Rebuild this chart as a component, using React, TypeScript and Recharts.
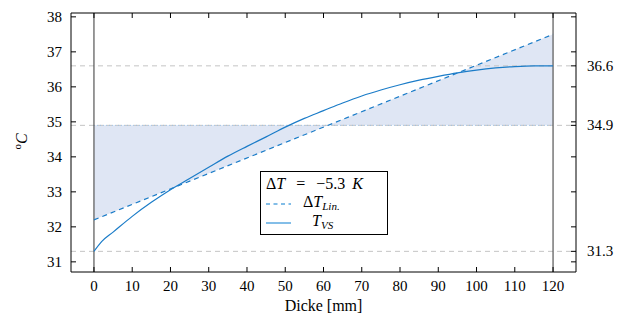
import React from 'react';
import {
  Area,
  ComposedChart,
  Legend,
  Line,
  ReferenceLine,
  XAxis,
  YAxis,
} from 'recharts';

// Dicke [mm] and measured temperature profile T_VS [°C]
const dicke = [0, 2, 5, 10, 15, 20, 25, 30, 35, 40, 45, 50, 55, 60, 65, 70, 75, 80, 85, 90, 95, 100, 105, 110, 115, 120];
const tVS = [31.3, 31.58, 31.85, 32.3, 32.7, 33.06, 33.38, 33.7, 34.02, 34.3, 34.57, 34.85, 35.1, 35.32, 35.54, 35.74, 35.91, 36.06, 36.19, 36.3, 36.4, 36.48, 36.54, 36.58, 36.6, 36.6];

// linear profile (end points)
const linX = [0, 120];
const linT = [32.2, 37.5];

const meanT = 34.9;
const refLevels = [31.3, 34.9, 36.6];
const xTicks = [0, 10, 20, 30, 40, 50, 60, 70, 80, 90, 100, 110, 120];
const yTicks = [31, 32, 33, 34, 35, 36, 37, 38];
const rightTicks = [...yTicks, 31.3, 34.9, 36.6];

const deltaLabel = '\u22125.3';
const xLabel = 'Dicke [mm]';

const FONT = 'Liberation Serif';
const BLUE = '#1b7cc8';
const LEGEND_BLUE = '#5aa8e0';

const tvsData = dicke.map((x, i) => ({ x, t: tVS[i] }));
const linData = linX.map((x, i) => ({ x, lin: linT[i] }));
const bandData = linX.map((x, i) => ({ x, band: [meanT, linT[i]] }));
const meanData = linX.map((x) => ({ x, m: meanT }));

const BottomTick = (props: any) => {
  const { x, y, payload } = props;
  return (
    <g>
      <line x1={x} y1={y} x2={x} y2={y - 5} stroke="#000" />
      <text x={x} y={y + 19} textAnchor="middle" fontFamily={FONT} fontSize={15} fill="#000">
        {payload.value}
      </text>
    </g>
  );
};

const TopTick = (props: any) => {
  const { x, y } = props;
  return <line x1={x} y1={y} x2={x} y2={y + 5} stroke="#000" />;
};

const LeftTick = (props: any) => {
  const { x, y, payload } = props;
  return (
    <g>
      <line x1={x} y1={y} x2={x + 5} y2={y} stroke="#000" />
      <text x={x - 9} y={y + 5} textAnchor="end" fontFamily={FONT} fontSize={15} fill="#000">
        {payload.value}
      </text>
    </g>
  );
};

const RightTick = (props: any) => {
  const { x, y, payload } = props;
  const labeled = !Number.isInteger(payload.value);
  return (
    <g>
      <line x1={x} y1={y} x2={x - 5} y2={y} stroke="#000" />
      {labeled && (
        <text x={x + 11} y={y + 5} textAnchor="start" fontFamily={FONT} fontSize={15} fill="#000">
          {payload.value.toFixed(1)}
        </text>
      )}
    </g>
  );
};

const YLabel = (props: any) => {
  const { viewBox } = props;
  const x = viewBox.x + 27;
  const y = viewBox.y + viewBox.height / 2 - 1;
  return (
    <text x={x} y={y} transform={`rotate(-90, ${x}, ${y})`} textAnchor="middle" fontFamily={FONT} fontSize={16} fill="#000">
      <tspan fontSize={11} dy={-6}>o</tspan>
      <tspan fontStyle="italic" dy={6}>C</tspan>
    </text>
  );
};

const XLabel = (props: any) => {
  const { viewBox } = props;
  return (
    <text x={viewBox.x + viewBox.width / 2} y={viewBox.y + 39} textAnchor="middle" fontFamily={FONT} fontSize={16} fill="#000">
      {xLabel}
    </text>
  );
};

const sub = { fontSize: 11, fontStyle: 'italic' as const, position: 'relative' as const, top: 3 };

const LegendBox = () => (
  <div
    style={{
      position: 'relative',
      width: 126,
      height: 62,
      border: '1px solid #000',
      background: '#fff',
      fontFamily: '"Liberation Serif", serif',
      fontSize: 16,
      lineHeight: '18px',
      color: '#000',
    }}
  >
    <div style={{ position: 'absolute', left: 5, top: 3, whiteSpace: 'nowrap' }}>
      {'\u0394'}<i>T</i>
      <span style={{ margin: '0 11px' }}>=</span>
      {deltaLabel}
      <i style={{ marginLeft: 7 }}>K</i>
    </div>
    <svg style={{ position: 'absolute', left: 5, top: 30 }} width={25} height={4}>
      <line x1={0} y1={2} x2={25} y2={2} stroke={LEGEND_BLUE} strokeWidth={1.5} strokeDasharray="4 3.5" />
    </svg>
    <div style={{ position: 'absolute', left: 42, top: 21, whiteSpace: 'nowrap' }}>
      {'\u0394'}<i>T</i><span style={sub}>Lin.</span>
    </div>
    <svg style={{ position: 'absolute', left: 5, top: 49 }} width={25} height={4}>
      <line x1={0} y1={2} x2={25} y2={2} stroke={LEGEND_BLUE} strokeWidth={1.5} />
    </svg>
    <div style={{ position: 'absolute', left: 51, top: 40, whiteSpace: 'nowrap' }}>
      <i>T</i><span style={sub}>VS</span>
    </div>
  </div>
);

export default function App() {
  return (
    <div style={{ position: 'absolute', left: 0, top: 0, width: 622, height: 320, background: '#fff' }}>
      <ComposedChart width={622} height={320} margin={{ top: 0, right: 0, bottom: 0, left: 0 }}>
        <XAxis
          dataKey="x"
          type="number"
          domain={[-6, 126]}
          allowDataOverflow
          ticks={xTicks}
          interval={0}
          height={48}
          tickSize={0}
          tickMargin={0}
          tickLine={false}
          axisLine={{ stroke: '#000' }}
          tick={<BottomTick />}
          label={<XLabel />}
        />
        <XAxis
          xAxisId="top"
          orientation="top"
          dataKey="x"
          type="number"
          domain={[-6, 126]}
          allowDataOverflow
          ticks={xTicks}
          interval={0}
          height={13}
          tickSize={0}
          tickMargin={0}
          tickLine={false}
          axisLine={{ stroke: '#000' }}
          tick={<TopTick />}
        />
        <YAxis
          type="number"
          domain={[30.71, 38.11]}
          allowDataOverflow
          ticks={yTicks}
          interval={0}
          width={71}
          tickSize={0}
          tickMargin={0}
          tickLine={false}
          axisLine={{ stroke: '#000' }}
          tick={<LeftTick />}
          label={<YLabel />}
        />
        <YAxis
          yAxisId="right"
          orientation="right"
          type="number"
          domain={[30.71, 38.11]}
          allowDataOverflow
          ticks={rightTicks}
          interval={0}
          width={46}
          tickSize={0}
          tickMargin={0}
          tickLine={false}
          axisLine={{ stroke: '#000' }}
          tick={<RightTick />}
        />
        {refLevels.map((v) => (
          <ReferenceLine key={v} y={v} stroke="#c4c4c4" strokeDasharray="5 4" />
        ))}
        <Area
          data={bandData}
          dataKey="band"
          type="linear"
          fill="#dfe6f4"
          fillOpacity={1}
          stroke="none"
          isAnimationActive={false}
        />
        <Line data={meanData} dataKey="m" stroke="#9dc0e3" strokeDasharray="1 2" dot={false} isAnimationActive={false} />
        <ReferenceLine x={0} stroke="#555" strokeWidth={1.2} />
        <ReferenceLine x={120} stroke="#555" strokeWidth={1.2} />
        <Line
          data={linData}
          dataKey="lin"
          type="linear"
          stroke={BLUE}
          strokeWidth={1.2}
          strokeDasharray="5 4"
          dot={false}
          isAnimationActive={false}
        />
        <Line
          data={tvsData}
          dataKey="t"
          type="monotone"
          stroke={BLUE}
          strokeWidth={1.2}
          dot={false}
          isAnimationActive={false}
        />
        <Legend
          layout="vertical"
          align="center"
          verticalAlign="middle"
          content={<LegendBox />}
          wrapperStyle={{ left: 260, top: 171, width: 128 }}
        />
      </ComposedChart>
    </div>
  );
}
